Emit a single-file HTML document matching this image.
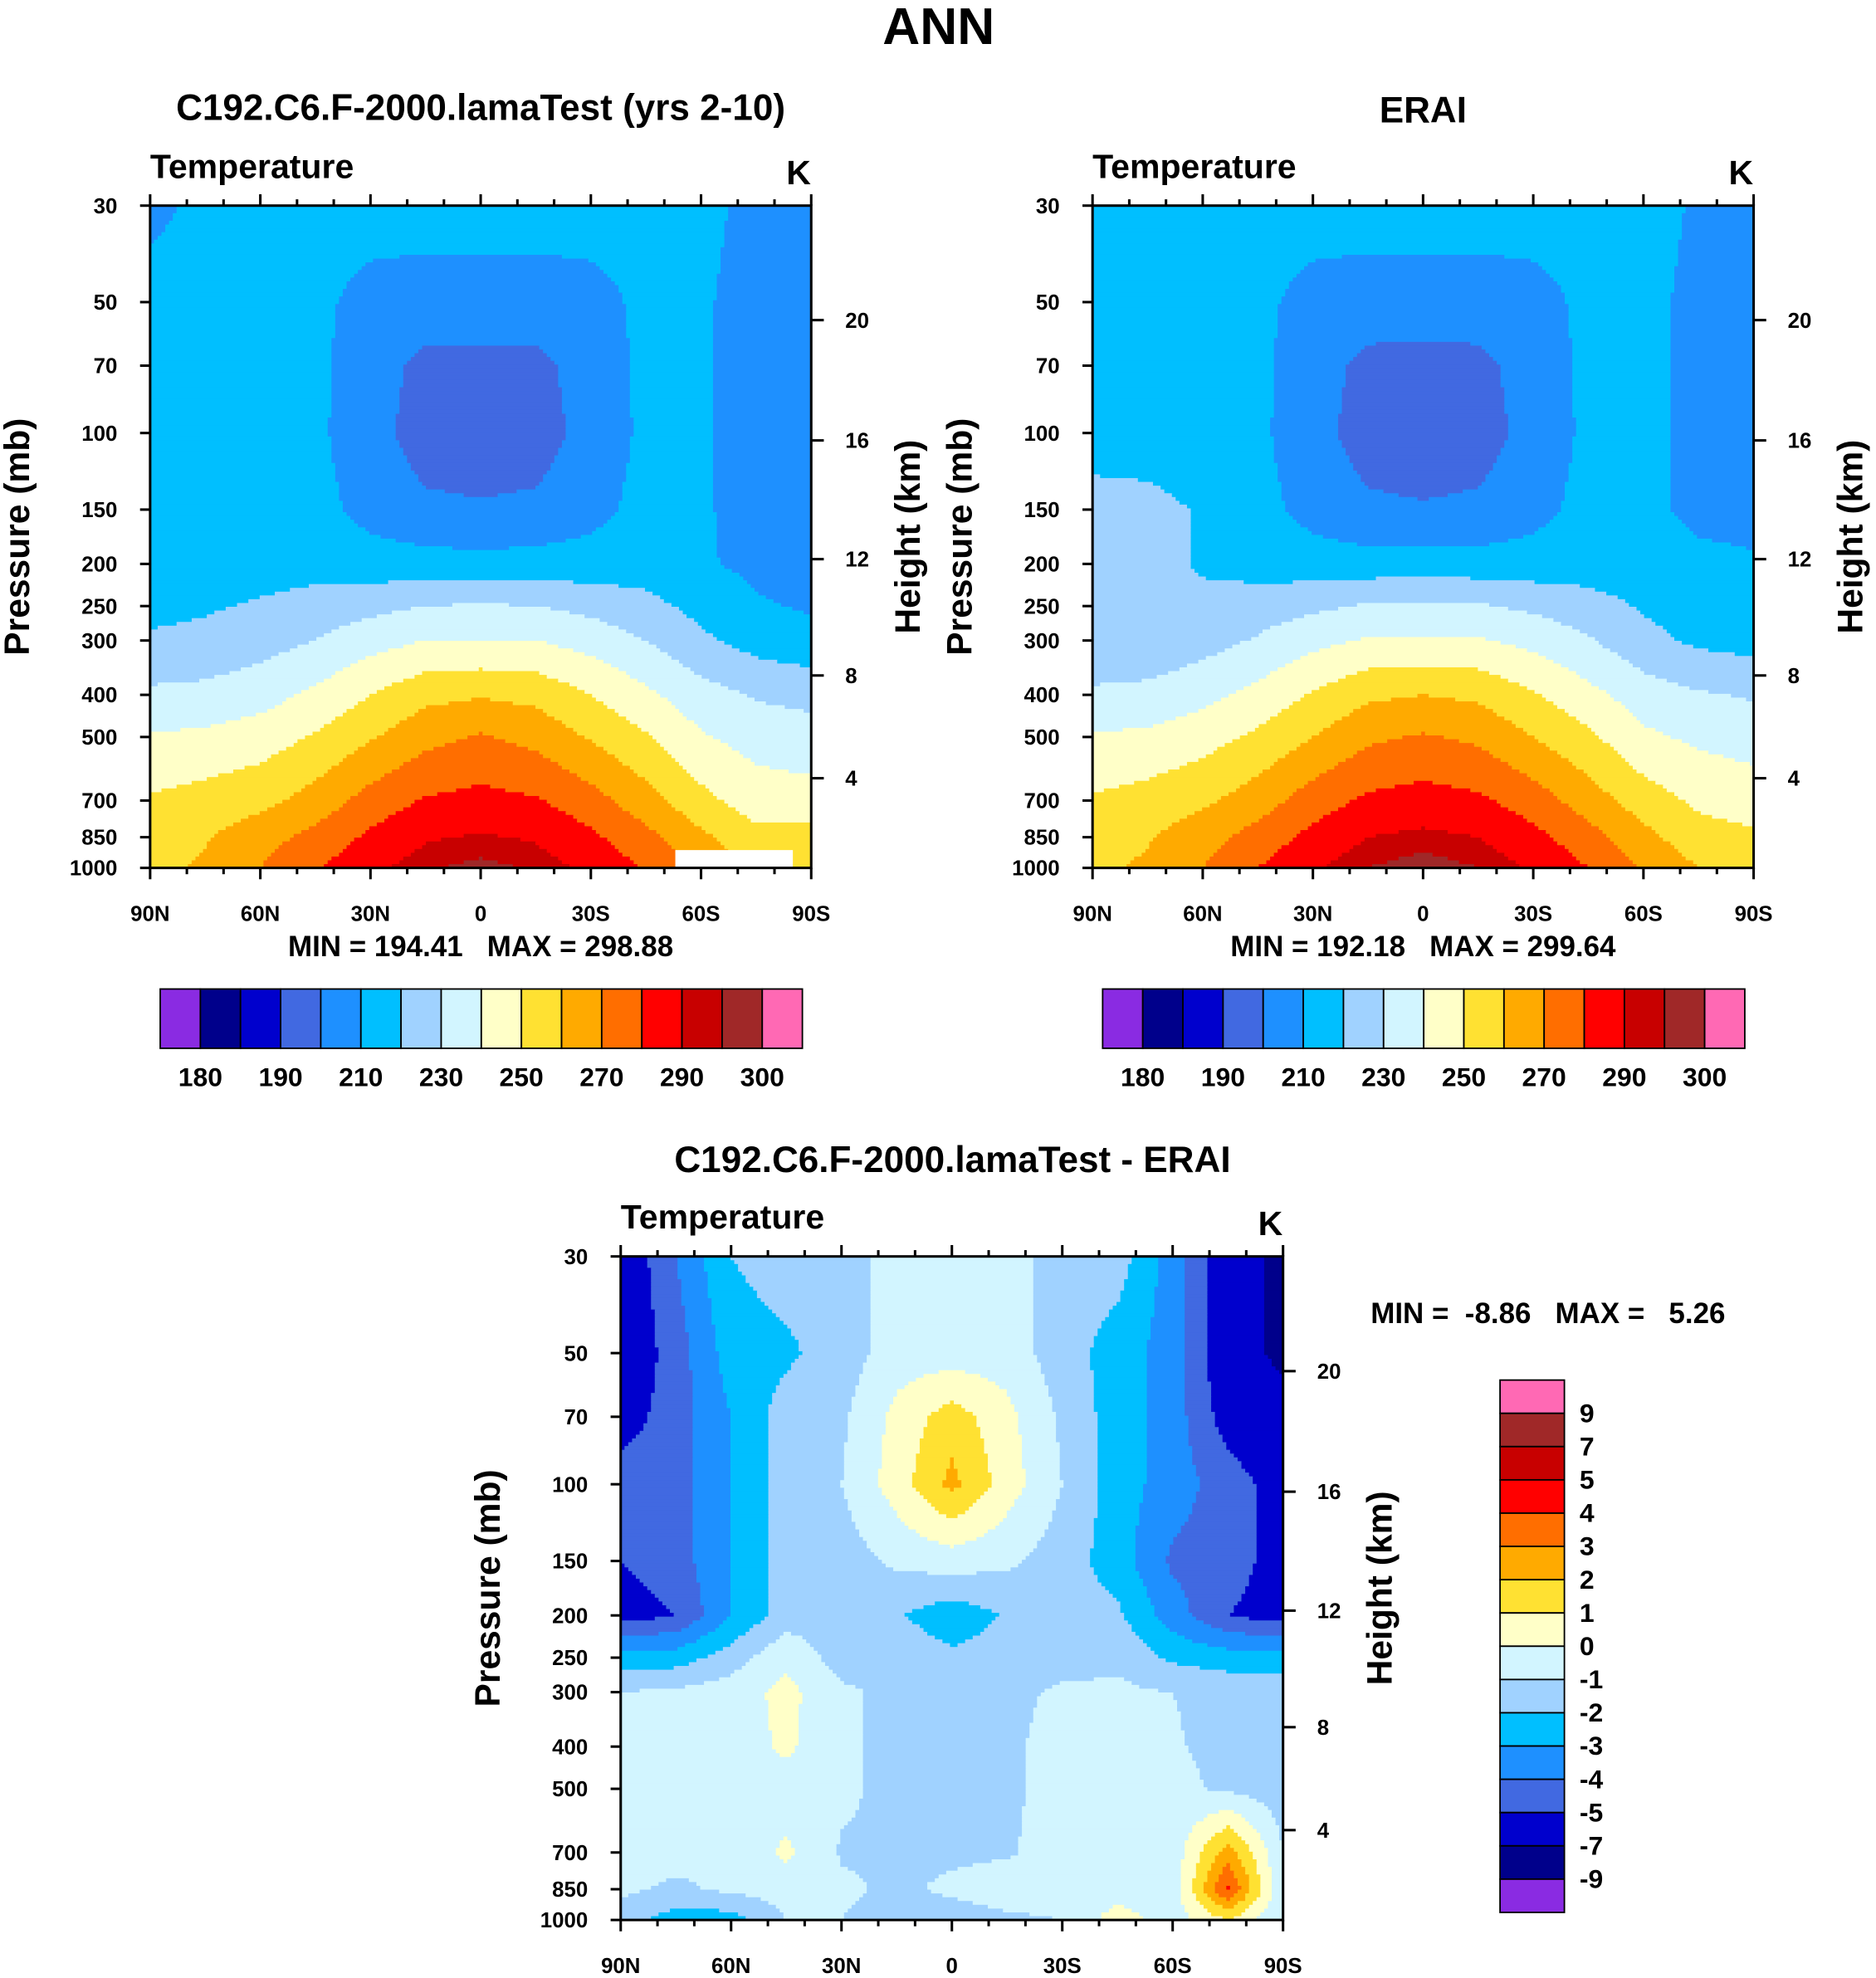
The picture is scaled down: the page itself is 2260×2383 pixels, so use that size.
<!DOCTYPE html>
<html><head><meta charset="utf-8"><style>
html,body{margin:0;padding:0;background:#fff}
svg{display:block}
text{font-family:"Liberation Sans",Arial,sans-serif;font-weight:bold;fill:#000;white-space:pre}
</style></head><body>
<svg id="root" width="2260" height="2383" viewBox="0 0 1487 1568" preserveAspectRatio="none" xmlns="http://www.w3.org/2000/svg" xml:space="preserve">
<rect width="1487" height="1568" fill="#fff"/>
<text x="744" y="35" font-size="41" text-anchor="middle">ANN</text>
<g id="p1"></g>
<g id="p2"></g>
<g id="p3"></g>
</svg>
<script>
const lats=[90,75,60,45,30,15,0,-15,-30,-45,-60,-75,-90];
const levels=[30,50,70,100,150,200,250,300,400,500,700,850,1000];
const modelT=[
[208,212,214,214,214,214,214,214,214,213,212,208,206],
[213,213,213,212,207,206,206,206,207,212,211,207,205],
[213,213,213,212,205,197,197,197,205,212,211,207,205],
[214,214,214,212,204,195,194,195,204,212,211,207,205],
[215,215,215,213,207,202,201,202,207,213,211,207,205],
[216,216,216,216,214,214,213,214,214,215,211,208,206],
[218,219,221,224,227,230,231,230,227,223,217,211,209],
[221,222,226,230,236,240,240,240,236,230,222,216,213],
[232,233,236,242,250,257,259,257,250,242,234,229,227],
[241,242,245,251,259,267,271,267,259,251,241,236,234],
[251,254,257,264,274,281,283,281,274,264,253,245,244],
[254,259,266,273,282,289,291,289,282,273,262,253,255],
[256,262,270,279,288,294,297,294,288,279,268,258,258]];
const eraiT=[
[212,213,214,214,214,214,214,214,214,213,213,209,206],
[213,213,213,212,207,206,206,206,207,212,212,208,205],
[213,213,213,212,205,197,196,197,205,212,212,208,205],
[215,215,214,212,204,195,193,195,204,212,212,208,205],
[224,223,219,213,207,202,201,202,207,213,212,208,207],
[224,223,219,216,214,214,215,214,214,215,214,212,211],
[221,221,222,225,228,231,232,231,228,224,219,215,213],
[221,222,226,231,237,241,241,241,237,231,223,218,216],
[232,233,237,243,251,258,260,258,251,243,235,231,229],
[241,242,246,252,260,268,271,268,260,252,242,238,236],
[251,254,258,265,275,282,284,282,275,265,255,248,245],
[254,259,266,274,283,290,292,290,283,274,263,254,252],
[257,262,270,280,289,295,298,295,289,280,269,260,256]];
const diffT=[
[-6,-4,-2,-1.5,-1.5,-0.5,-0.5,-0.5,-1.5,-1.5,-3.5,-6,-7.5],
[-6,-4.5,-2.5,-2.2,-1.5,-0.5,-0.5,-0.5,-1.5,-2.5,-3.5,-6,-7.5],
[-5.5,-4.5,-3,-1.5,-1.2,0.3,1.5,0.3,-1.2,-2.5,-3.5,-5.5,-6],
[-4.5,-4.5,-3,-1.5,-1,0.5,2.3,0.5,-1,-2.5,-3.5,-4.5,-5.5],
[-5,-4.5,-3,-1.5,-1.5,-0.8,-0.5,-0.8,-1.5,-2.5,-4.2,-4.5,-5.5],
[-5.5,-5,-3,-1.5,-1.5,-1.9,-2.6,-1.9,-1.5,-1.8,-3.5,-5,-5.5],
[-2.5,-2.5,-1.5,-0.2,-1.5,-1.3,-1.8,-1.5,-1.5,-1.2,-2.2,-2.5,-2.5],
[-1,-0.8,-0.5,0.3,-0.8,-1.3,-1.3,-1.3,-0.8,-0.8,-1,-1.3,-1.5],
[-0.8,-0.8,-0.6,0.2,-0.8,-1.3,-1.3,-1.2,-0.6,-0.6,-0.9,-1.3,-1.5],
[-0.7,-0.7,-0.6,-0.5,-0.8,-1.3,-1.3,-1.2,-0.6,-0.5,-0.7,-1.2,-1.5],
[-0.6,-0.6,-0.8,0.2,-1.1,-1.2,-1.2,-1.1,-0.6,-0.5,-0.6,2.5,-1],
[-0.8,-1.2,-0.8,-0.5,-0.8,-1.2,-0.8,-0.5,-0.5,-0.5,-0.7,4.2,-1],
[-1.5,-2.5,-2.5,-1,-1,-1.5,-1.5,-1.2,-1,0.5,-0.5,1,-1]];
const tempBounds=[180,185,190,200,210,220,230,240,250,260,270,280,290,295,300];
const tempLabels=['180','190','210','230','250','270','290','300'];
const diffBounds=[-9,-7,-5,-4,-3,-2,-1,0,1,2,3,4,5,7,9];
const diffLabels=['-9','-7','-5','-4','-3','-2','-1','0','1','2','3','4','5','7','9'];
const palette=['#8a2be2','#00008b','#0000cd','#4169e1','#1e90ff','#00bfff','#a0d2ff','#d2f5ff','#ffffc8','#ffe132','#ffaa00','#ff6e00','#ff0000','#c80000','#a02828','#ff69b4'];
const pTicks=[30,50,70,100,150,200,250,300,400,500,700,850,1000];
const latTicks=[90,60,30,0,-30,-60,-90];
const latNames=['90N','60N','30N','0','30S','60S','90S'];
const hTickP=[55,104,195,361,622];
const hTickLabels=['20','16','12','8','4'];

const NS='http://www.w3.org/2000/svg';
function mk(tag,attrs,parent){const e=document.createElementNS(NS,tag);for(const k in attrs)e.setAttribute(k,attrs[k]);parent.appendChild(e);return e;}
function txt(parent,x,y,s,size,anchor,name){const t=mk('text',{x:x,y:y,'font-size':size,'text-anchor':anchor||'start'},parent);t.textContent=s;


return t;}
function interp(grid,lat,p){
  let i=0;while(i<lats.length-2&&lat<lats[i+1])i++;
  let ti=(lats[i]-lat)/(lats[i]-lats[i+1]);ti=Math.max(0,Math.min(1,ti));
  const lp=Math.log(p);let j=0;while(j<levels.length-2&&p>levels[j+1])j++;
  let tj=(lp-Math.log(levels[j]))/(Math.log(levels[j+1])-Math.log(levels[j]));tj=Math.max(0,Math.min(1,tj));
  const a=grid[j][i]*(1-ti)+grid[j][i+1]*ti, b=grid[j+1][i]*(1-ti)+grid[j+1][i+1]*ti;
  return a*(1-tj)+b*tj;}
function colorIdx(v,b){let k=0;while(k<b.length&&v>=b[k])k++;return k;}

function panel(g,x0,y0,W,H,grid,bounds,opts){
  const xs=lat=>x0+(90-lat)/180*W;
  const ys=p=>y0+Math.log(p/30)/Math.log(1000/30)*H;
  const nx=175,ny=175,dx=W/nx,dy=H/ny;
  const field=mk('g',{},g);
  
  
  for(let r=0;r<ny;r++){
    const yc=y0+(r+0.5)*dy;const p=30*Math.pow(1000/30,(yc-y0)/H);
    let start=0,cur=-1;
    for(let c=0;c<=nx;c++){
      let ci=-2;
      if(c<nx){const lat=90-(c+0.5)*dx/W*180;ci=colorIdx(interp(grid,lat,p),bounds);}
      if(ci!==cur){
        if(cur>=0){const cell=mk('rect',{x:(x0+start*dx).toFixed(2),y:(y0+r*dy).toFixed(2),width:((c-start)*dx+0.4).toFixed(2),height:(dy+0.4).toFixed(2),fill:palette[cur]},field);
          
          }
        start=c;cur=ci;}
    }
  }
  if(opts.missing){const m=mk('rect',{x:xs(-53),y:ys(910),width:xs(-85)-xs(-53),height:y0+H-ys(910),fill:'#fff'},g);
    
    }
  const fr=mk('rect',{x:x0,y:y0,width:W,height:H,fill:'none',stroke:'#000','stroke-width':2},g);
  
  
  const ax=mk('g',{stroke:'#000','stroke-width':2},g);
  
  
  pTicks.forEach(p=>{const y=ys(p);mk('line',{x1:x0-8,x2:x0,y1:y,y2:y},ax);
    txt(g,x0-26,y+6,String(p),17,'end','y-tick-label');});
  for(let l=90;l>=-90;l-=10){const x=xs(l),major=l%30===0,len=major?9:5;
    mk('line',{x1:x,x2:x,y1:y0-len,y2:y0},ax);mk('line',{x1:x,x2:x,y1:y0+H,y2:y0+H+len},ax);}
  latTicks.forEach((l,i)=>txt(g,xs(l),y0+H+42,latNames[i],17,'middle','x-tick-label'));
  hTickP.forEach((p,i)=>{const y=ys(p);mk('line',{x1:x0+W,x2:x0+W+10,y1:y,y2:y},ax);
    txt(g,x0+W+27,y+6,hTickLabels[i],17,'start','height-tick-label');});
  const yt=txt(g,0,0,'Pressure (mb)',28,'middle','y-axis-title');yt.setAttribute('transform',`translate(${x0-96},${y0+H/2}) rotate(-90)`);
  const ht=txt(g,0,0,'Height (km)',28,'middle','height-axis-title');ht.setAttribute('transform',`translate(${x0+W+86},${y0+H/2}) rotate(-90)`);
  txt(g,x0,y0-22,'Temperature',27,'start','variable-label');
  txt(g,x0+W-10,y0-17,'K',27,'middle','units-label');
  txt(g,opts.tx,opts.ty,opts.title,29,'middle','panel-title');
  txt(g,opts.mx,opts.my,opts.minmax,23,opts.manchor,'min-max-label');
}
function hbar(g,x0,y0,w,h,labels){
  const bw=w/16;
  for(let i=0;i<16;i++){const r=mk('rect',{x:x0+i*bw,y:y0,width:bw,height:h,fill:palette[i],stroke:'#000','stroke-width':1.2},g);
    
    }
  labels.forEach((s,i)=>txt(g,x0+(1+2*i)*bw,y0+h+30,s,21,'middle','colorbar-label'));
}
function vbar(g,x0,y0,w,h,labels){
  const bh=h/16;
  for(let i=0;i<16;i++){const r=mk('rect',{x:x0,y:y0+i*bh,width:w,height:bh,fill:palette[15-i],stroke:'#000','stroke-width':1.2},g);
    
    }
  labels.slice().reverse().forEach((s,i)=>txt(g,x0+w+12,y0+(i+1)*bh+7,s,21,'start','colorbar-label'));
}
const p1=document.getElementById('p1'),p2=document.getElementById('p2'),p3=document.getElementById('p3');
panel(p1,119,163,524,525,modelT,tempBounds,{missing:true,tx:381,ty:95,title:'C192.C6.F-2000.lamaTest (yrs 2-10)',mx:381,my:758,minmax:'MIN = 194.41   MAX = 298.88',manchor:'middle'});
panel(p2,866,163,524,525,eraiT,tempBounds,{tx:1128,ty:97,title:'ERAI',mx:1128,my:758,minmax:'MIN = 192.18   MAX = 299.64',manchor:'middle'});
panel(p3,492,996,525,526,diffT,diffBounds,{tx:755,ty:929,title:'C192.C6.F-2000.lamaTest - ERAI',mx:1227,my:1049,minmax:'MIN =  -8.86   MAX =   5.26',manchor:'middle'});
const cb1=mk('g',{},p1);
hbar(cb1,127,784,509,47,tempLabels);
const cb2=mk('g',{},p2);
hbar(cb2,874,784,509,47,tempLabels);
const cb3=mk('g',{},p3);
vbar(cb3,1189,1094,51,422,diffLabels);
</script>
</body></html>
